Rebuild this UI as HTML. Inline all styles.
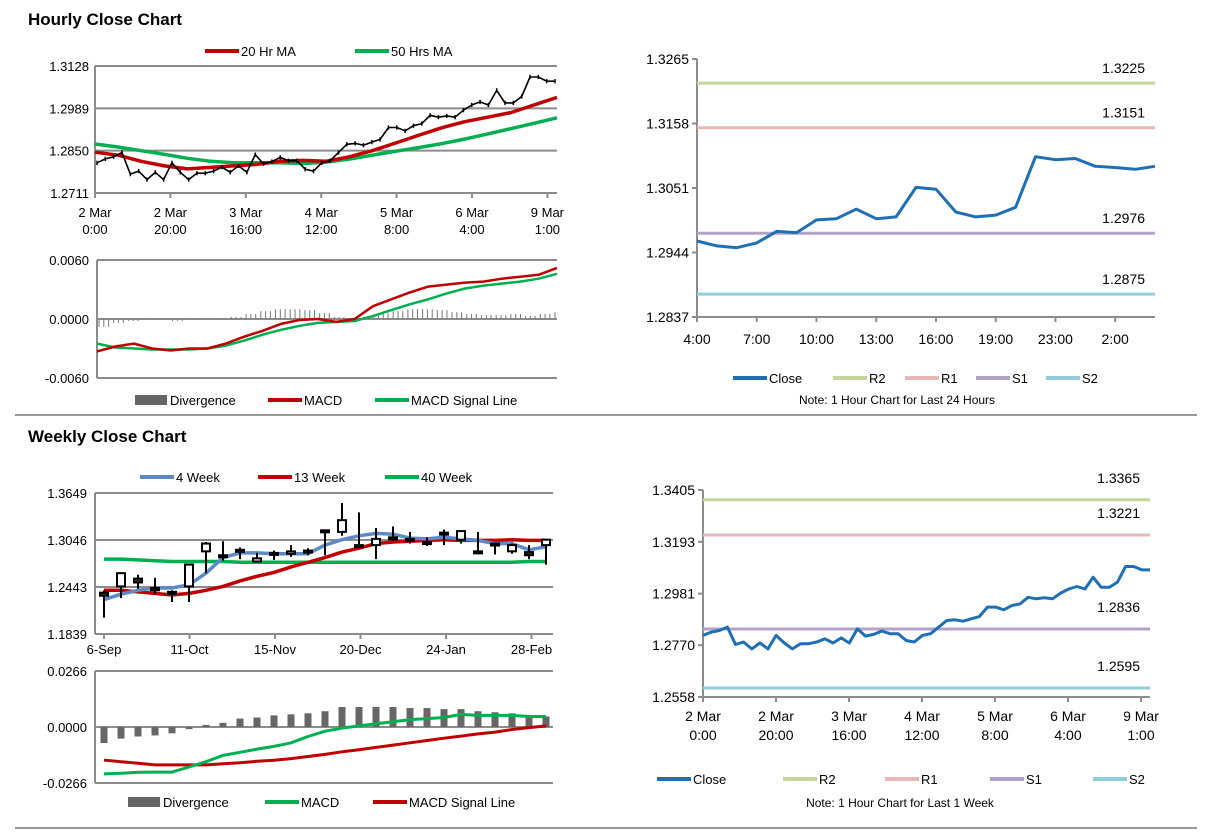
<!DOCTYPE html>
<html><head><meta charset="utf-8"><style>
html,body{margin:0;padding:0;background:#fff;}
svg{display:block;font-family:"Liberation Sans",Arial,sans-serif;}
</style></head><body>
<svg id="root" width="1212" height="834" viewBox="0 0 1212 834">
<text x="28" y="25" font-size="17" font-weight="bold" fill="#000">Hourly Close Chart</text>
<line x1="15" y1="415" x2="1197" y2="415" stroke="#999" stroke-width="2"/>
<text x="28" y="442" font-size="17" font-weight="bold" fill="#000">Weekly Close Chart</text>
<line x1="15" y1="828" x2="1197" y2="828" stroke="#999" stroke-width="2"/>
</svg>
<script>
// ===== Data =====
const hourlyClose=[1.2810,1.2823,1.2830,1.2844,1.2773,1.2783,1.2755,1.2779,1.2755,1.2810,1.2779,1.2755,1.2776,1.2776,1.2783,1.2796,1.2779,1.2800,1.2779,1.2837,1.2807,1.2814,1.2828,1.2817,1.2817,1.2789,1.2783,1.2810,1.2817,1.2844,1.2871,1.2874,1.2868,1.2878,1.2887,1.2926,1.2926,1.2915,1.2932,1.2939,1.2966,1.2960,1.2964,1.2960,1.2983,1.3000,1.3010,1.3000,1.3048,1.3007,1.3007,1.3028,1.3092,1.3092,1.3078,1.3078];
const ma20=[1.2845,1.2835,1.2815,1.2800,1.2790,1.2795,1.2800,1.2805,1.2815,1.2818,1.2815,1.2830,1.2850,1.2875,1.2900,1.2925,1.2945,1.2960,1.2975,1.3000,1.3025];
const ma50=[1.2872,1.2862,1.2850,1.2838,1.2825,1.2815,1.2810,1.2810,1.2810,1.2808,1.2812,1.2822,1.2835,1.2848,1.2860,1.2873,1.2888,1.2905,1.2922,1.2940,1.2958];
const hMacd=[-0.0033,-0.0028,-0.0025,-0.0030,-0.0032,-0.0030,-0.0030,-0.0025,-0.0018,-0.0012,-0.0005,-0.0001,0.0000,-0.0003,0.0000,0.0013,0.0020,0.0027,0.0033,0.0035,0.0037,0.0038,0.0041,0.0043,0.0045,0.0052];
const hSignal=[-0.0025,-0.0029,-0.0030,-0.0031,-0.0031,-0.0031,-0.0030,-0.0027,-0.0022,-0.0016,-0.0011,-0.0007,-0.0004,-0.0003,-0.0002,0.0003,0.0009,0.0015,0.0020,0.0026,0.0031,0.0034,0.0036,0.0038,0.0041,0.0046];
const hDiv=[-0.0008,-0.0004,-0.0002,0.0001,-0.0001,-0.0002,-0.0001,0.0000,0.0001,0.0002,0.0005,0.0008,0.0010,0.0010,0.0009,0.0006,0.0002,0.0001,0.0002,0.0006,0.0008,0.0010,0.0010,0.0009,0.0007,0.0005,0.0004,0.0004,0.0005,0.0003,0.0005,0.0007];
const hourTicks=["2 Mar|0:00","2 Mar|20:00","3 Mar|16:00","4 Mar|12:00","5 Mar|8:00","6 Mar|4:00","9 Mar|1:00"];
const dayClose=[1.2963,1.2955,1.2952,1.2960,1.2979,1.2977,1.2998,1.3000,1.3016,1.3000,1.3003,1.3052,1.3049,1.3011,1.3003,1.3006,1.3019,1.3103,1.3098,1.3100,1.3087,1.3085,1.3082,1.3087];
const dayTicks=["4:00","7:00","10:00","13:00","16:00","19:00","23:00","2:00"];
const dayLevels=[1.3225,1.3151,1.2976,1.2875];
const weekLevels=[1.3365,1.3221,1.2836,1.2595];
const levelNames=["R2","R1","S1","S2"];
const wOpen=[1.237,1.245,1.255,1.243,1.238,1.245,1.290,1.285,1.292,1.277,1.288,1.287,1.291,1.317,1.315,1.298,1.298,1.308,1.306,1.300,1.314,1.305,1.290,1.300,1.290,1.289,1.298];
const wClose=[1.233,1.262,1.250,1.240,1.238,1.273,1.300,1.283,1.290,1.281,1.287,1.290,1.289,1.316,1.330,1.297,1.306,1.307,1.305,1.302,1.312,1.316,1.288,1.300,1.298,1.285,1.305];
const wHigh=[1.240,1.262,1.260,1.256,1.240,1.273,1.302,1.303,1.295,1.288,1.291,1.298,1.294,1.317,1.352,1.340,1.320,1.322,1.315,1.308,1.318,1.316,1.315,1.300,1.300,1.298,1.305];
const wLow=[1.205,1.230,1.242,1.236,1.225,1.225,1.262,1.278,1.280,1.276,1.279,1.283,1.285,1.285,1.310,1.295,1.280,1.303,1.300,1.297,1.298,1.300,1.287,1.286,1.287,1.280,1.273];
const wk4=[1.228,1.235,1.240,1.243,1.243,1.247,1.262,1.282,1.288,1.288,1.287,1.287,1.287,1.298,1.305,1.310,1.313,1.312,1.307,1.306,1.308,1.306,1.304,1.300,1.300,1.292,1.296];
const wk13=[1.240,1.240,1.238,1.236,1.234,1.236,1.240,1.245,1.252,1.258,1.263,1.270,1.276,1.282,1.289,1.294,1.300,1.302,1.303,1.304,1.305,1.304,1.304,1.304,1.305,1.304,1.304];
const wk40=[1.280,1.280,1.279,1.278,1.277,1.277,1.277,1.277,1.276,1.276,1.276,1.276,1.276,1.276,1.276,1.276,1.276,1.276,1.276,1.276,1.276,1.276,1.276,1.276,1.276,1.277,1.277];
const wDiv=[-0.0076,-0.0055,-0.0045,-0.004,-0.003,-0.001,0.001,0.002,0.004,0.0045,0.0055,0.006,0.0065,0.0075,0.0095,0.0095,0.0095,0.0095,0.009,0.009,0.0085,0.0085,0.0075,0.007,0.0065,0.005,0.005];
const wMacd=[-0.0223,-0.022,-0.0215,-0.0214,-0.0214,-0.019,-0.0165,-0.0135,-0.012,-0.0105,-0.0092,-0.0075,-0.0045,-0.002,-0.0005,0.0005,0.0015,0.0025,0.0035,0.004,0.0045,0.006,0.0055,0.0055,0.0055,0.005,0.005];
const wSignal=[-0.0157,-0.0165,-0.0172,-0.018,-0.018,-0.018,-0.018,-0.0175,-0.017,-0.0163,-0.0158,-0.015,-0.014,-0.013,-0.0118,-0.0108,-0.0097,-0.0086,-0.0075,-0.0064,-0.0053,-0.0043,-0.0033,-0.0024,-0.0012,-0.0003,0.0005];
const weekTicks=["6-Sep","11-Oct","15-Nov","20-Dec","24-Jan","28-Feb"];

// ===== Helpers =====
const NS="http://www.w3.org/2000/svg";
const root=document.getElementById('root');
function mk(tag,attrs,name){const el=document.createElementNS(NS,tag);for(const k in attrs)el.setAttribute(k,attrs[k]);


root.appendChild(el);return el;}
function lin(d0,d1,r0,r1){return v=>r0+(v-d0)/(d1-d0)*(r1-r0);}
function txt(x,y,s,name,anchor,size,fill){const t=mk('text',{x:x,y:y,'font-size':size||13,'text-anchor':anchor||'start',fill:fill||'#000'},name);t.textContent=s;return t;}
function poly(vals,xf,yf,color,w,name){let d='';vals.forEach((v,i)=>{d+=(i?'L':'M')+xf(i).toFixed(1)+' '+yf(v).toFixed(1);});return mk('path',{d:d,fill:'none',stroke:color,'stroke-width':w,'stroke-linejoin':'round'},name);}
function hline(x1,x2,y,color,w,name){return mk('line',{x1:x1,x2:x2,y1:y,y2:y,stroke:color,'stroke-width':w},name);}
function vline(x,y1,y2,color,w,name){return mk('line',{x1:x,x2:x,y1:y1,y2:y2,stroke:color,'stroke-width':w},name);}
function legLine(x,y,color,label,name){hline(x,x+34,y,color,4,name+'-swatch');txt(x+36,y+5,label,name+'-label');}
function legBox(x,y,label,name){mk('rect',{x:x,y:y-5,width:32,height:10,fill:'#666'},name+'-swatch');txt(x+35,y+5,label,name+'-label');}
const GRID='#8c8c8c';
const fmt4=v=>v.toFixed(4);

// ===== Chart 1: hourly price (top-left) =====
(function(){
const L=95,R=557,T=66,B=193;
const y=lin(1.2711,1.3128,B,T);
[1.2711,1.2850,1.2989,1.3128].forEach(v=>{hline(L,R,y(v),GRID,2,'hourly-gridline');txt(L-6,y(v)+5,fmt4(v),'hourly-y-tick','end');});
vline(L,T,B+4,GRID,2,'hourly-y-axis');
const n=hourlyClose.length;const x=i=>L+2+i*(R-L-4)/(n-1);
const xm=i=>L+i*(R-L)/(ma20.length-1);
poly(ma50,xm,y,'#00b050',3.5,'ma50-line');
poly(ma20,xm,y,'#c00000',3.5,'ma20-line');
hourlyClose.forEach((v,i)=>{vline(x(i),y(v+0.0007),y(v-0.0007),'#000',1.5,'hourly-candle');});
poly(hourlyClose,x,y,'#000',1.6,'hourly-close-line');
hourTicks.forEach((s,i)=>{const xx=L+i*75.4;vline(xx,B,B+5,GRID,2,'hourly-x-tick');const p=s.split('|');txt(xx,B+24,p[0],'hourly-x-label','middle');txt(xx,B+41,p[1],'hourly-x-label','middle');});
legLine(205,51,'#c00000','20 Hr MA','legend-ma20');
legLine(355,51,'#00b050','50 Hrs MA','legend-ma50');
})();
// ===== Chart 2: hourly MACD =====
(function(){
const L=97,R=557,T=260,B=378;
const y=lin(-0.006,0.006,B,T);
[-0.006,0,0.006].forEach(v=>{hline(L,R,y(v),GRID,2,'hourly-macd-gridline');txt(L-8,y(v)+5,fmt4(v),'hourly-macd-y-tick','end');});
vline(L,T,B,GRID,2,'hourly-macd-y-axis');
const nd=hDiv.length;hDiv.forEach((v,i)=>{const xx=L+2+i*(R-L-4)/(nd-1);for(let k=0;k<3;k++){const xk=xx+k*4.8;if(xk<R)vline(xk,y(0),y(v),'#777',1,'hourly-divergence-bar');}});
const x=i=>L+i*(R-L)/(hMacd.length-1);
poly(hSignal,x,y,'#00b050',2.5,'hourly-signal-line');
poly(hMacd,x,y,'#c00000',2.5,'hourly-macd-line');
legBox(135,400,'Divergence','legend-divergence');
legLine(268,400,'#c00000','MACD','legend-macd');
legLine(375,400,'#00b050','MACD Signal Line','legend-signal');
})();
// ===== Level charts =====
const lvlColors=['#c4d79b','#e6b9b8','#b3a2c7','#92cddc'];
function levelChart(o){
const y=lin(o.min,o.max,o.B,o.T);
o.ticks.forEach(v=>{txt(o.L-8,y(v)+5,fmt4(v),o.pre+'-y-tick','end',14);hline(o.L-5,o.L,y(v),GRID,2,o.pre+'-y-tickmark');});
vline(o.L,o.T,o.B,GRID,2,o.pre+'-y-axis');
hline(o.L,o.R,o.B,GRID,2,o.pre+'-x-axis');
o.levels.forEach((v,i)=>{hline(o.L,o.R,y(v),lvlColors[i],3,o.pre+'-'+levelNames[i].toLowerCase()+'-line');txt(o.R-10,y(v)+o.lab,fmt4(v),o.pre+'-'+levelNames[i].toLowerCase()+'-value','end',14);});
const n=o.data.length;const x=i=>o.L+i*(o.R-o.L)/(n-1);
poly(o.data,x,y,'#1f6fb5',3,o.pre+'-close-line');
o.xt.forEach((s,i)=>{const xx=o.tx(i);vline(xx,o.B,o.B+5,GRID,2,o.pre+'-x-tick');const p=s.split('|');if(p.length>1){txt(xx,o.B+24,p[0],o.pre+'-x-label','middle',14);txt(xx,o.B+43,p[1],o.pre+'-x-label','middle',14);}else txt(xx,o.B+27,s,o.pre+'-x-label','middle',14);});
}
levelChart({pre:'day',L:697,R:1155,T:59,B:317,min:1.2837,max:1.3265,ticks:[1.2837,1.2944,1.3051,1.3158,1.3265],levels:dayLevels,lab:-10,data:dayClose,xt:dayTicks,tx:i=>697+i*3*(1155-697)/(dayClose.length-1)});
[['Close','#1f6fb5',733],['R2','#c4d79b',833],['R1','#e6b9b8',905],['S1','#b3a2c7',976],['S2','#92cddc',1046]].forEach((e,i)=>{legLine(e[2],378,e[1],e[0],'day-legend-'+e[0].toLowerCase());});
txt(897,404,'Note: 1 Hour Chart for Last 24 Hours','day-note','middle',12);
levelChart({pre:'week',L:703,R:1150,T:490,B:697,min:1.2558,max:1.3405,ticks:[1.2558,1.2770,1.2981,1.3193,1.3405],levels:weekLevels,lab:-17,data:hourlyClose,xt:hourTicks,tx:i=>703+i*73});
[['Close','#1f6fb5',657],['R2','#c4d79b',783],['R1','#e6b9b8',885],['S1','#b3a2c7',990],['S2','#92cddc',1093]].forEach((e,i)=>{legLine(e[2],779,e[1],e[0],'week-legend-'+e[0].toLowerCase());});
txt(900,807,'Note: 1 Hour Chart for Last 1 Week','week-note','middle',12);
// ===== Weekly price =====
(function(){
const L=95,R=553,T=493,B=634;
const y=lin(1.1839,1.3649,B,T);
[1.1839,1.2443,1.3046,1.3649].forEach(v=>{hline(L,R,y(v),GRID,2,'weekly-gridline');txt(L-8,y(v)+5,fmt4(v),'weekly-y-tick','end');});
vline(L,T,B,GRID,2,'weekly-y-axis');
const n=wOpen.length;const x=i=>104+i*(546-104)/(n-1);
poly(wk40,x,y,'#00b050',3.5,'wk40-line');
poly(wk13,x,y,'#c00000',3.5,'wk13-line');
poly(wk4,x,y,'#5b8ac6',3.5,'wk4-line');
wOpen.forEach((o,i)=>{const c=wClose[i];vline(x(i),y(wHigh[i]),y(wLow[i]),'#000',2,'weekly-candle-wick');const top=y(Math.max(o,c)),h=Math.max(2,Math.abs(y(o)-y(c)));mk('rect',{x:x(i)-4,y:top,width:8,height:h,fill:c>=o?'#fff':'#333',stroke:'#000','stroke-width':2},'weekly-candle-body');});
weekTicks.forEach((s,i)=>{const xx=104+i*85.5;vline(xx,B,B+5,GRID,2,'weekly-x-tick');txt(xx,B+20,s,'weekly-x-label','middle');});
legLine(140,477,'#5b8ac6','4 Week','legend-4wk');
legLine(258,477,'#c00000','13 Week','legend-13wk');
legLine(385,477,'#00b050','40 Week','legend-40wk');
})();
// ===== Weekly MACD =====
(function(){
const L=95,R=553,T=671,B=783;
const y=lin(-0.0266,0.0266,B,T);
[-0.0266,0,0.0266].forEach(v=>{hline(L,R,y(v),GRID,2,'weekly-macd-gridline');txt(L-8,y(v)+5,fmt4(v),'weekly-macd-y-tick','end');});
vline(L,T,B,GRID,2,'weekly-macd-y-axis');
const n=wDiv.length;const x=i=>104+i*(546-104)/(n-1);
wDiv.forEach((v,i)=>{mk('rect',{x:x(i)-3.5,y:Math.min(y(0),y(v)),width:7,height:Math.abs(y(v)-y(0)),fill:'#666'},'weekly-divergence-bar');});
poly(wSignal,x,y,'#c00000',3,'weekly-signal-line');
poly(wMacd,x,y,'#00b050',3,'weekly-macd-line');
legBox(128,802,'Divergence','legend-weekly-divergence');
legLine(265,802,'#00b050','MACD','legend-weekly-macd');
legLine(373,802,'#c00000','MACD Signal Line','legend-weekly-signal');
})();
</script>
</body></html>
